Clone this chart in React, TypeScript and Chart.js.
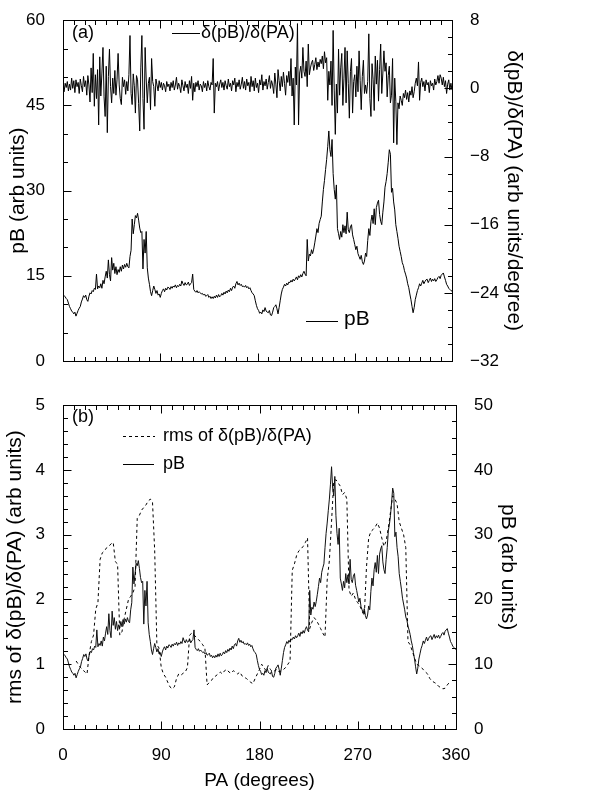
import { useEffect, useRef } from "react";
import { Chart, registerables } from "chart.js";
Chart.register(...registerables);

const FONT = "'Liberation Sans', Arial, Helvetica, sans-serif";

// Position angle grid (degrees)
const pa = Array.from({ length: 361 }, (_, i) => i);
const paRms = Array.from({ length: 181 }, (_, i) => i * 2);

// pB (arb units), 1-degree sampling
const pB = [
  11.8, 11.5, 11.3, 11.0, 10.8, 10.2, 9.6, 9.2, 8.8, 8.6,
  8.3, 8.6, 7.9, 8.4, 8.9, 9.3, 9.6, 10.4, 10.9, 11.5,
  11.2, 11.6, 10.8, 10.5, 11.4, 12.0, 11.8, 12.4, 12.2, 12.8,
  12.6, 15.3, 12.7, 13.2, 12.9, 13.6, 12.8, 14.2, 13.6, 14.8,
  15.8, 14.6, 17.8, 15.2, 14.1, 18.2, 16.0, 17.2, 15.4, 16.6,
  15.2, 16.1, 15.6, 16.6, 15.8, 16.9, 16.2, 17.0, 16.5, 17.2,
  16.6, 16.4, 18.4, 19.5, 25.0, 22.4, 24.0, 25.6, 25.2, 26.0,
  24.8, 23.4, 22.6, 22.8, 16.2, 21.4, 19.0, 22.8, 16.4, 14.6,
  13.5, 12.2, 11.5, 12.4, 13.2, 12.6, 11.9, 12.4, 11.6, 11.8,
  11.2, 11.9, 12.4, 12.7, 12.2, 12.8, 12.5, 13.0, 12.9, 12.6,
  13.1, 12.8, 13.2, 13.0, 13.4, 12.9, 13.3, 13.1, 13.5, 13.2,
  14.1, 13.6, 13.3, 13.8, 13.4, 13.5, 13.9, 13.3, 13.6, 13.8,
  15.3, 12.6, 12.3, 12.1, 12.4, 12.0, 12.2, 12.0, 11.8, 11.9,
  11.6, 11.8, 11.4, 11.5, 11.7, 11.2, 11.4, 11.0, 11.3, 11.0,
  11.4, 11.1, 11.6, 11.2, 11.7, 11.3, 11.5, 11.9, 11.6, 12.1,
  11.8, 12.3, 12.0, 12.5, 12.2, 12.8, 12.4, 13.0, 13.2, 12.8,
  13.6, 14.0, 13.4, 13.7, 13.3, 13.5, 13.1, 13.2, 13.0, 13.3,
  12.9, 13.1, 12.7, 12.9, 12.4, 12.0, 11.8, 11.5, 10.6, 9.8,
  9.2, 8.9, 8.4, 8.6, 8.3, 9.0, 8.7, 9.4, 8.8, 8.6,
  8.5, 8.9, 8.1, 8.0, 8.6, 9.4, 9.6, 9.9, 9.2, 8.3,
  9.4, 10.6, 11.8, 12.6, 13.0, 13.5, 13.2, 13.7, 13.4, 13.9,
  13.8, 14.2, 13.9, 14.4, 14.1, 14.4, 14.8, 14.3, 15.0, 14.7,
  15.2, 14.8, 15.4, 15.8, 15.3, 15.0, 21.4, 17.6, 18.8, 18.5,
  19.6, 18.9, 19.7, 20.8, 22.0, 23.3, 22.6, 24.2, 24.9, 25.5,
  28.0, 30.2, 31.8, 33.7, 35.5, 37.8, 40.5, 37.2, 36.0, 39.0,
  33.0, 30.2, 28.5, 31.0, 23.3, 22.4, 21.4, 22.8, 21.8, 24.0,
  22.6, 23.8, 22.4, 26.2, 23.1, 22.6, 23.6, 24.0, 22.2, 21.4,
  20.5, 19.6, 20.2, 18.9, 18.4, 17.9, 18.6, 17.5, 17.0, 17.6,
  19.0, 18.4, 21.2, 23.3, 22.1, 24.6, 25.7, 24.2, 26.8, 24.0,
  27.0, 27.8, 28.3, 25.8, 24.6, 24.0, 26.2, 28.0, 30.6, 31.6,
  33.0, 35.0, 37.2, 36.4, 29.7, 30.4, 28.0, 26.6, 24.0, 22.8,
  21.6, 20.2, 19.3, 18.4, 17.3, 16.8, 15.9, 15.3, 14.6, 13.6,
  12.9, 11.8, 10.8, 9.6, 8.5, 9.4, 10.8, 11.6, 12.4, 12.9,
  13.6, 13.2, 13.7, 14.2, 13.6, 14.0, 14.3, 14.4, 13.8, 14.2,
  14.6, 14.0, 14.4, 14.1, 14.5, 14.0, 14.3, 14.7, 14.9, 14.5,
  15.1, 15.3, 15.5, 14.8, 14.2, 13.5, 13.2, 12.8, 12.6, 12.4,
  12.3,
];

// δ(pB)/δ(PA) (arb units/degree), 1-degree sampling
const dpB = [
  0.3, -0.4, 0.6, 0.1, 0.8, -0.3, 0.5, -0.2, 1.2, 0.0,
  0.9, -0.5, 1.0, 0.2, 0.7, -0.6, 1.1, 0.3, -0.4, 1.4,
  0.2, 0.9, -0.8, 1.5, 0.4, -1.6, 2.4, -0.5, 4.1, -2.1,
  1.6, -1.2, 2.2, -4.3, 3.7, -0.9, 1.8, 4.8, -1.0, -3.3,
  2.6, -5.2, 1.4, 4.6, 0.2, -1.7, 1.2, -0.6, 2.1, -0.8,
  1.0, 4.1, 0.4, -1.2, -1.9, 1.3, 0.2, 1.0, -0.7, 0.8,
  -0.3, 1.6, 6.2, -0.6, -1.9, 1.7, 0.3, -2.9, 1.5, 1.0,
  -1.8, -5.0, 2.4, 6.2, -1.2, -4.8, 4.8, 1.1, -1.7, 0.6,
  1.3, -2.5, 3.5, 0.8, 0.2, -2.1, 1.1, 0.4, -0.3, 0.9,
  0.1, 0.7, -0.2, 0.6, 0.3, -0.4, 0.8, 0.2, 0.5, -0.3,
  0.7, 0.1, 0.9, -0.2, 0.4, 1.3, -0.1, 0.6, 0.2, -0.5,
  1.0, 0.3, -0.3, 0.8, 0.1, 0.5, -0.6, 0.9, 0.0, 1.4,
  -1.4, 0.6, -0.4, 0.7, 0.2, 0.9, -0.2, 0.5, 0.3, -0.4,
  0.8, 0.1, 0.6, -0.3, 0.9, 0.2, -0.2, 0.7, 0.4, 3.5,
  -2.9, 0.6, 0.2, 0.8, -0.3, 0.5, 1.0, 0.1, 0.7, -0.2,
  0.9, 0.3, -0.1, 1.1, 0.2, 0.6, -0.3, 0.9, 0.4, 1.2,
  -0.4, 0.7, 0.2, 1.0, -0.1, 0.5, 1.3, 0.0, 0.8, -0.2,
  1.1, 0.3, 0.7, -0.4, 1.4, 0.2, 0.9, -0.3, 1.2, 0.1,
  0.6, -0.5, 1.0, 0.4, 1.6, -0.2, 0.8, 0.3, 1.1, -0.1,
  0.7, 1.5, 0.0, 0.9, 0.4, -0.6, 1.8, 0.5, -1.1, 2.2,
  0.9, -0.3, 1.4, 0.2, 1.9, 0.6, -0.8, 1.5, 0.7, 2.0,
  0.3, 3.5, -0.9, 1.2, -4.3, 2.5, 0.4, 7.6, -4.3, 1.8,
  2.6, 1.2, 4.8, 2.0, 1.4, 3.2, 0.2, 5.2, 1.6, 2.4,
  3.0, 3.3, 2.1, 2.8, 3.6, 2.2, 3.1, 2.5, 3.4, 2.9,
  3.8, 2.3, 4.3, 3.0, 3.6, -1.4, 2.0, 0.4, 3.2, -2.0,
  6.8, -0.2, -5.4, 0.5, -2.9, 4.6, -0.8, 2.4, 4.1, -2.0,
  1.2, 4.8, -1.7, 4.4, 0.6, -3.5, 2.0, 3.5, -2.9, 0.8,
  1.6, -1.0, 2.6, -0.4, 4.4, 0.9, -2.5, 1.4, 3.3, -0.6,
  0.4, -0.6, 0.8, 6.4, -1.2, -3.3, 2.9, 1.0, -2.6, 3.8,
  0.5, 3.3, -1.5, 2.2, 5.2, -0.6, 1.8, 4.4, 2.0, 3.0,
  -1.0, 1.5, 2.6, -1.7, -0.8, 3.5, -6.4, 1.2, -1.5, -6.6,
  -1.7, -2.4, -0.9, -1.4, -2.0, -0.6, -1.1, -0.2, -1.3, -0.5,
  -1.6, -0.3, -0.8, 0.2, -1.1, -0.4, 0.6, 1.2, 0.3, 3.1,
  -1.4, 0.7, 1.2, 0.2, 0.8, -0.3, 1.0, 0.4, 0.7, -0.5,
  0.9, 0.3, 0.6, -0.2, 1.1, 0.4, 0.8, 1.5, 0.6, 1.6,
  1.2, 0.4, 1.3, 0.2, 0.9, -0.6, 0.5, 1.0, -0.2, 0.6,
  -0.2,
];

// rms of δ(pB)/δ(PA) (arb units), 2-degree sampling
const rms = [
  null, null, null, null, null, null, 1.05, 1.0, 0.95, 0.92,
  0.88, 0.85, 1.15, 1.35, 1.45, 1.85, 1.95, 2.62, 2.72, 2.75,
  2.8, 2.82, 2.86, 2.88, 2.58, 2.55, 1.45, 1.5, 1.7, 1.85,
  2.0, 2.05, 2.1, 2.2, 3.25, 3.3, 3.38, 3.42, 3.46, 3.52,
  3.55, 3.5, 2.75, 1.3, 1.25, 0.95, 0.85, 0.8, 0.72, 0.65,
  0.62, 0.65, 0.78, 0.85, 0.83, 0.86, 0.88, 0.95, 1.45, 1.48,
  1.45, 1.42, 1.38, 1.35, 1.3, 1.25, 0.68, 0.72, 0.75, 0.8,
  0.82, 0.85, 0.88, 0.85, 0.9, 0.92, 0.88, 0.86, 0.9, 0.88,
  0.85, 0.88, 0.82, 0.8, 0.78, 0.75, 0.72, 0.7, 0.78, 0.85,
  0.92, 1.0, 0.95, 0.9, 0.98, 0.92, 0.88, 0.9, 0.92, 0.88,
  0.9, 0.92, 0.95, 1.0, 1.05, 2.45, 2.55, 2.68, 2.75, 2.78,
  2.82, 2.88, 2.95, 1.55, 1.65, 1.72, 1.68, 1.62, 1.55, 1.48,
  1.42, 2.3, 2.6, 3.2, 3.82, 3.85, 3.8, 3.75, 3.62, 3.65,
  3.55, 2.15, 2.05, 2.1, 2.0, 1.95, 1.9, 1.82, 1.75, 2.5,
  2.95, 3.05, 3.08, 3.12, 3.18, 3.1, 2.95, 2.82, 2.9, 3.1,
  3.35, 3.6, 3.55, 3.48, 3.2, 3.1, 3.0, 2.8, 1.35, 1.3,
  1.2, 1.1, 1.0, 0.98, 0.95, 0.92, 0.88, 0.85, 0.78, 0.74,
  0.72, 0.7, 0.66, 0.64, 0.62, 0.63, 0.68, 0.72, null, null,
  null,
];

// Tick labels
const xTicks = [0, 90, 180, 270, 360];
const topLeftTicks = [0, 15, 30, 45, 60];
const topRightTicks = [-32, -24, -16, -8, 0, 8];
const botLeftTicks = [0, 1, 2, 3, 4, 5];
const botRightTicks = [0, 10, 20, 30, 40, 50];

const fmt = (v: number) => (v < 0 ? "\u2212" + Math.abs(v) : String(v));

type Edge = "left" | "right" | "top" | "bottom";
type TickSpec = { scale: string; edges: Edge[]; major: number; minor: number };
type Note =
  | { kind: "text"; text: string; x: number; y: number; size: number }
  | { kind: "line"; x1: number; x2: number; y: number; dash?: number[] };

function makeFrame(id: string, specs: TickSpec[], notes: Note[]) {
  return {
    id,
    afterDatasetsDraw(chart: any) {
      const { ctx, chartArea: a } = chart;
      ctx.save();
      ctx.strokeStyle = "#000";
      ctx.lineWidth = 1;
      const L = Math.round(a.left) + 0.5;
      const R = Math.round(a.right) + 0.5;
      const T = Math.round(a.top) + 0.5;
      const B = Math.round(a.bottom) + 0.5;
      ctx.strokeRect(L, T, R - L, B - T);
      for (const t of specs) {
        const s = chart.scales[t.scale];
        const n = Math.round((s.max - s.min) / t.minor);
        ctx.beginPath();
        for (let i = 0; i <= n; i++) {
          const v = s.min + i * t.minor;
          const r = v / t.major;
          const isMajor = Math.abs(r - Math.round(r)) < 1e-6;
          const len = isMajor ? 8 : 4.5;
          const p = Math.round(s.getPixelForValue(v)) + 0.5;
          for (const e of t.edges) {
            if (e === "left") { ctx.moveTo(L, p); ctx.lineTo(L + len, p); }
            if (e === "right") { ctx.moveTo(R, p); ctx.lineTo(R - len, p); }
            if (e === "bottom") { ctx.moveTo(p, B); ctx.lineTo(p, B - len); }
            if (e === "top") { ctx.moveTo(p, T); ctx.lineTo(p, T + len); }
          }
        }
        ctx.stroke();
      }
      ctx.fillStyle = "#000";
      ctx.textBaseline = "middle";
      ctx.textAlign = "left";
      for (const nt of notes) {
        if (nt.kind === "text") {
          ctx.font = `${nt.size}px ${FONT}`;
          ctx.fillText(nt.text, nt.x, nt.y);
        } else {
          ctx.beginPath();
          ctx.setLineDash(nt.dash || []);
          ctx.moveTo(nt.x1, nt.y + 0.5);
          ctx.lineTo(nt.x2, nt.y + 0.5);
          ctx.stroke();
          ctx.setLineDash([]);
        }
      }
      ctx.restore();
    },
  };
}

const tickFont = { family: FONT, size: 17 };
const yTitleFont = { family: FONT, size: 21 };

const lineStyle = {
  borderColor: "#000",
  borderWidth: 1,
  pointRadius: 0,
  tension: 0,
  fill: false,
  borderJoinStyle: "round" as const,
  spanGaps: false,
};

function setTicks(list: number[]) {
  return (s: any) => {
    s.ticks = list.map((v) => ({ value: v }));
  };
}

export default function App() {
  const topRef = useRef<HTMLCanvasElement>(null);
  const botRef = useRef<HTMLCanvasElement>(null);

  useEffect(() => {
    const topChart = new Chart(topRef.current as HTMLCanvasElement, {
      type: "line",
      data: {
        datasets: [
          { ...lineStyle, label: "pB", data: pa.map((x, i) => ({ x, y: pB[i] })), yAxisID: "yL" },
          { ...lineStyle, label: "δ(pB)/δ(PA)", data: pa.map((x, i) => ({ x, y: dpB[i] })), yAxisID: "yR" },
        ],
      },
      options: {
        responsive: false,
        animation: false,
        devicePixelRatio: 1,
        events: [],
        layout: { padding: { top: 16, left: 0, right: 0, bottom: 0 } },
        plugins: { legend: { display: false }, tooltip: { enabled: false } },
        scales: {
          x: {
            type: "linear", min: 0, max: 360,
            afterBuildTicks: setTicks(xTicks),
            ticks: { display: false },
            grid: { display: false }, border: { display: false },
            afterFit: (s: any) => { s.height = 24; },
          },
          yL: {
            type: "linear", position: "left", min: 0, max: 60,
            afterBuildTicks: setTicks(topLeftTicks),
            ticks: { font: tickFont, color: "#000", padding: 10, callback: (v: any) => fmt(Number(v)) },
            grid: { display: false }, border: { display: false },
            title: { display: true, text: "pB (arb units)", font: yTitleFont, color: "#000", padding: { top: 6, bottom: 0 } },
            afterFit: (s: any) => { s.width = 63; },
          },
          yR: {
            type: "linear", position: "right", min: -32, max: 8,
            afterBuildTicks: setTicks(topRightTicks),
            ticks: { font: tickFont, color: "#000", padding: 10, callback: (v: any) => fmt(Number(v)) },
            grid: { display: false }, border: { display: false },
            title: { display: true, text: "δ(pB)/δ(PA) (arb units/degree)", font: yTitleFont, color: "#000", padding: { top: 80, bottom: 0 } },
            afterFit: (s: any) => { s.width = 154; },
          },
        },
      } as any,
      plugins: [
        makeFrame(
          "frameTop",
          [
            { scale: "x", edges: ["bottom", "top"], major: 90, minor: 10 },
            { scale: "yL", edges: ["left"], major: 15, minor: 5 },
            { scale: "yR", edges: ["right"], major: 8, minor: 2 },
          ],
          [
            { kind: "text", text: "(a)", x: 72, y: 33, size: 18 },
            { kind: "line", x1: 172, x2: 200, y: 33 },
            { kind: "text", text: "δ(pB)/δ(PA)", x: 201, y: 33, size: 18 },
            { kind: "line", x1: 306, x2: 338, y: 321 },
            { kind: "text", text: "pB", x: 344, y: 319, size: 21 },
          ]
        ),
      ],
    });

    const botChart = new Chart(botRef.current as HTMLCanvasElement, {
      type: "line",
      data: {
        datasets: [
          { ...lineStyle, label: "rms of δ(pB)/δ(PA)", data: paRms.map((x, i) => ({ x, y: rms[i] })), yAxisID: "yL", borderDash: [3, 3] },
          { ...lineStyle, label: "pB", borderColor: "#111", data: pa.map((x, i) => ({ x, y: pB[i] })), yAxisID: "yR" },
        ],
      },
      options: {
        responsive: false,
        animation: false,
        devicePixelRatio: 1,
        events: [],
        layout: { padding: { top: 16, left: 0, right: 0, bottom: 0 } },
        plugins: { legend: { display: false }, tooltip: { enabled: false } },
        scales: {
          x: {
            type: "linear", min: 0, max: 360,
            afterBuildTicks: setTicks(xTicks),
            ticks: { font: tickFont, color: "#000", padding: 8, maxRotation: 0, autoSkip: false },
            grid: { display: false }, border: { display: false },
            title: { display: true, text: "PA (degrees)", font: { family: FONT, size: 19 }, color: "#000", padding: { top: 0, bottom: 5 } },
            afterFit: (s: any) => { s.height = 68; },
          },
          yL: {
            type: "linear", position: "left", min: 0, max: 5,
            afterBuildTicks: setTicks(botLeftTicks),
            ticks: { font: tickFont, color: "#000", padding: 10 },
            grid: { display: false }, border: { display: false },
            title: { display: true, text: "rms of δ(pB)/δ(PA) (arb units)", font: yTitleFont, color: "#000", padding: { top: 3, bottom: 0 } },
            afterFit: (s: any) => { s.width = 63; },
          },
          yR: {
            type: "linear", position: "right", min: 0, max: 50,
            afterBuildTicks: setTicks(botRightTicks),
            ticks: { font: tickFont, color: "#000", padding: 10 },
            grid: { display: false }, border: { display: false },
            title: { display: true, text: "pB (arb units)", font: yTitleFont, color: "#000", padding: { top: 86, bottom: 0 } },
            afterFit: (s: any) => { s.width = 150; },
          },
        },
      } as any,
      plugins: [
        makeFrame(
          "frameBot",
          [
            { scale: "x", edges: ["bottom", "top"], major: 90, minor: 10 },
            { scale: "yL", edges: ["left"], major: 1, minor: 0.2 },
            { scale: "yR", edges: ["right"], major: 10, minor: 2.5 },
          ],
          [
            { kind: "text", text: "(b)", x: 72, y: 32, size: 18 },
            { kind: "line", x1: 123, x2: 155, y: 51, dash: [3, 3] },
            { kind: "text", text: "rms of δ(pB)/δ(PA)", x: 163, y: 51, size: 18 },
            { kind: "line", x1: 123, x2: 154, y: 79 },
            { kind: "text", text: "pB", x: 163, y: 79, size: 18 },
          ]
        ),
      ],
    });

    return () => {
      topChart.destroy();
      botChart.destroy();
    };
  }, []);

  return (
    <div style={{ position: "absolute", left: 0, top: 0, width: 606, height: 797, background: "#fff" }}>
      <canvas ref={topRef} width={606} height={385} style={{ position: "absolute", left: 0, top: 0, width: 606, height: 385 }} />
      <canvas ref={botRef} width={606} height={412} style={{ position: "absolute", left: 0, top: 385, width: 606, height: 412 }} />
    </div>
  );
}
